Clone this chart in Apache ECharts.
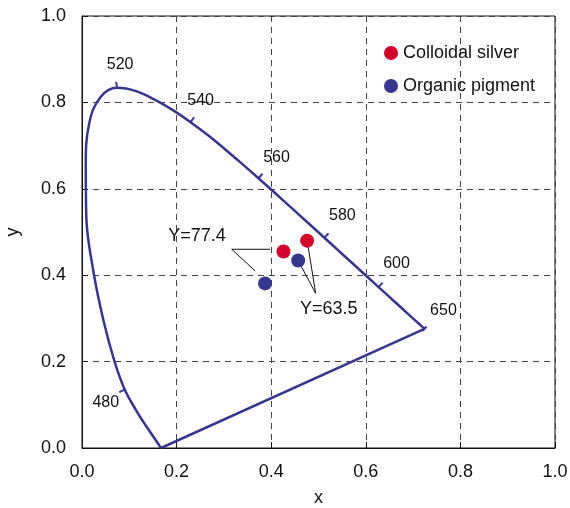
<!DOCTYPE html>
<html>
<head>
<meta charset="utf-8">
<script src="https://cdn.jsdelivr.net/npm/echarts@6/dist/echarts.min.js"></script>
<style>
    html, body { margin: 0; padding: 0; background: #fff; }
    #chart { width: 570px; height: 508px; }
</style>
</head>
<body>
<div id="chart"></div>
<script>
// spectral locus (nm -> x, y)
const wavelengths = [400, 460, 470, 475, 480, 485, 490, 495, 500, 505, 510, 515, 520, 525, 530, 535, 540, 545, 550, 555, 560, 565, 570, 575, 580, 585, 590, 595, 600, 605, 610, 620, 630, 640, 650]
const locusX = [0.167, 0.1438, 0.130, 0.1135, 0.0905, 0.0687, 0.0454, 0.0235, 0.0090, 0.0080, 0.0150, 0.0389, 0.0743, 0.1142, 0.1547, 0.1929, 0.2296, 0.2658, 0.3016, 0.3373, 0.3731, 0.4087, 0.4441, 0.4788, 0.5125, 0.5448, 0.5752, 0.6029, 0.6270, 0.6482, 0.6658, 0.6915, 0.7079, 0.7190, 0.7240]
const locusY = [0.000, 0.0377, 0.060, 0.089, 0.135, 0.2007, 0.2950, 0.4127, 0.5384, 0.6548, 0.7502, 0.8120, 0.8338, 0.8262, 0.8059, 0.7816, 0.7543, 0.7243, 0.6923, 0.6589, 0.6245, 0.5896, 0.5547, 0.5202, 0.4866, 0.4544, 0.4242, 0.3965, 0.3725, 0.3514, 0.3340, 0.3083, 0.2920, 0.2809, 0.2760]
const tickWavelengths = [480, 520, 540, 560, 580, 600, 650]

const silverX = [0.426, 0.476]
const silverY = [0.455, 0.480]
const pigmentX = [0.457, 0.387]
const pigmentY = [0.434, 0.381]

const annotationTexts = ['Y=77.4', 'Y=63.5']
const annotationAt = [[0.243, 0.491], [0.5216, 0.321]]
const leaders = [
    [[0.3975, 0.460], [0.3165, 0.460], [0.366, 0.410]],
    [[0.476, 0.480], [0.494, 0.358], [0.457, 0.434]]
]

const NAVY = '#36368e'
const RED = '#d2002b'
const FONT = '"Liberation Sans", Arial, sans-serif'

// label offsets (px) from the locus point, per tick
const labelOffsets = [[-19, 13], [3, -23], [10, -22], [18, -21], [18, -22], [18, -23], [19, -18]]
const whitePoint = [0.33, 0.33]

function renderTick(params, api) {
    const n = wavelengths.length
    const i = wavelengths.indexOf(api.value(2))
    const p = api.coord([locusX[i], locusY[i]])
    const ia = Math.max(i - 1, 0), ib = Math.min(i + 1, n - 1)
    const a = api.coord([locusX[ia], locusY[ia]])
    const b = api.coord([locusX[ib], locusY[ib]])
    const tx = b[0] - a[0], ty = b[1] - a[1]
    const len = Math.hypot(tx, ty)
    let nx = -ty / len, ny = tx / len
    const c = api.coord(whitePoint)
    if ((p[0] - c[0]) * nx + (p[1] - c[1]) * ny < 0) { nx = -nx; ny = -ny }
    const s = i === n - 1 ? -3 : 0
    const e = i === n - 1 ? 3 : 6
    const off = labelOffsets[params.dataIndex]
    return {
        type: 'group',
        children: [
            { type: 'line', shape: { x1: p[0] + nx * s, y1: p[1] + ny * s, x2: p[0] + nx * e, y2: p[1] + ny * e }, style: { stroke: NAVY, lineWidth: 2 } },
            { type: 'text', x: p[0] + off[0], y: p[1] + off[1], style: { text: String(wavelengths[i]), fill: '#111', font: '16px ' + FONT, align: 'center', verticalAlign: 'middle' } }
        ]
    }
}

function renderLeader(params, api) {
    const pts = leaders[params.dataIndex].map(pt => api.coord(pt))
    const t = api.coord(annotationAt[params.dataIndex])
    return {
        type: 'group',
        children: [
            { type: 'polyline', shape: { points: pts }, style: { stroke: '#111', lineWidth: 1, fill: null } },
            { type: 'text', x: t[0], y: t[1], style: { text: annotationTexts[params.dataIndex], fill: '#111', font: '18px ' + FONT, align: 'center', verticalAlign: 'middle' } }
        ]
    }
}

const chart = echarts.init(document.getElementById('chart'))
const locusData = locusX.map((x, i) => [x, locusY[i]])
const option = {
    animation: false,
    textStyle: { fontFamily: FONT },
    grid: { left: 82, right: 15, top: 16, bottom: 60, outerBoundsMode: 'none', containLabel: false, show: true, borderColor: '#111', borderWidth: 1 },
    legend: {
        orient: 'vertical',
        left: 379,
        top: 39,
        itemWidth: 14,
        itemHeight: 14,
        itemGap: 15,
        icon: 'circle',
        textStyle: { fontSize: 18, color: '#111', fontFamily: FONT },
        data: ['Colloidal silver', 'Organic pigment']
    },
    xAxis: {
        type: 'value', min: 0, max: 1, interval: 0.2,
        name: 'x', nameLocation: 'middle', nameGap: 41,
        nameTextStyle: { fontSize: 18, color: '#111' },
        axisLine: { lineStyle: { color: '#111' } },
        axisTick: { inside: true, length: 6, lineStyle: { color: '#111' } },
        axisLabel: { fontSize: 18, color: '#111', margin: 15, formatter: v => v.toFixed(1) },
        splitLine: { lineStyle: { type: [6, 5], color: '#444' } }
    },
    yAxis: {
        type: 'value', min: 0, max: 1, interval: 0.2,
        name: 'y', nameLocation: 'middle', nameGap: 60,
        nameTextStyle: { fontSize: 18, color: '#111' },
        axisLine: { show: true, lineStyle: { color: '#111' } },
        axisTick: { show: true, inside: true, length: 6, lineStyle: { color: '#111' } },
        axisLabel: { fontSize: 18, color: '#111', margin: 16, formatter: v => v.toFixed(1) },
        splitLine: { lineStyle: { type: [6, 5], color: '#444' } }
    },
    series: [
        {
            type: 'line', data: locusData, smooth: 0.4, showSymbol: false, z: 2,
            lineStyle: { color: NAVY, width: 2.5 }
        },
        {
            // purple line
            type: 'line', data: [locusData[locusData.length - 1], locusData[0]], showSymbol: false, z: 2,
            lineStyle: { color: NAVY, width: 2.5 }
        },
        {
            type: 'custom', renderItem: renderTick, clip: false, z: 2,
            encode: { x: 0, y: 1 },
            data: tickWavelengths.map(w => {
                const i = wavelengths.indexOf(w)
                return [locusX[i], locusY[i], w]
            })
        },
        {
            type: 'custom', renderItem: renderLeader, clip: false, z: 3,
            encode: { x: 0, y: 1 },
            data: leaders.map(l => l[1])
        },
        {
            name: 'Colloidal silver', type: 'scatter', symbolSize: 14, z: 5,
            itemStyle: { color: RED, opacity: 1 },
            data: silverX.map((x, i) => [x, silverY[i]])
        },
        {
            name: 'Organic pigment', type: 'scatter', symbolSize: 14, z: 5,
            itemStyle: { color: NAVY, opacity: 1 },
            data: pigmentX.map((x, i) => [x, pigmentY[i]])
        }
    ]
}
chart.setOption(option)
</script>
</body>
</html>
